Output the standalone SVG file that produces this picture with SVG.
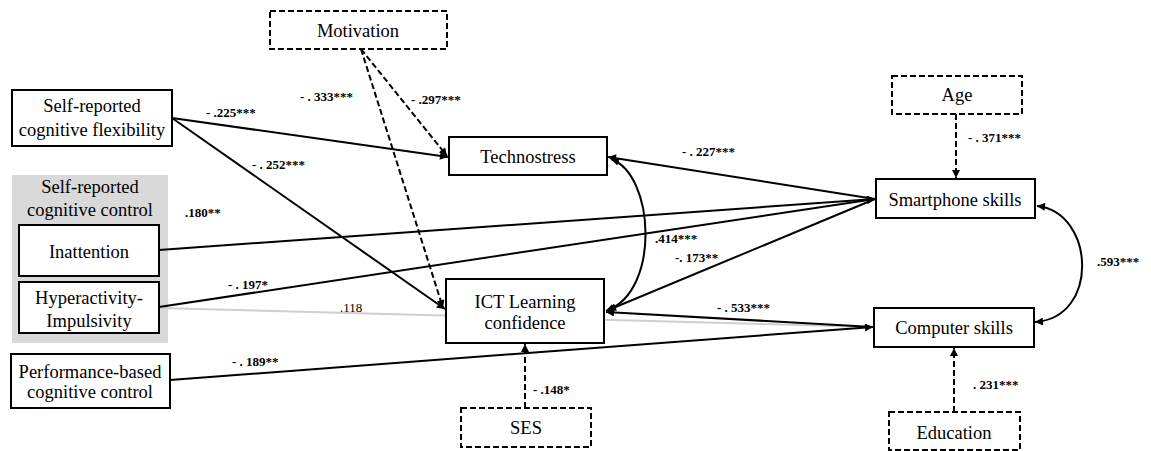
<svg xmlns="http://www.w3.org/2000/svg" width="1151" height="451" viewBox="0 0 1151 451">
  <style>
    .box { fill: #fff; stroke: #000; stroke-width: 2; }
    .dbox { fill: #fff; stroke: #000; stroke-width: 2; stroke-dasharray: 6 3; }
    .lbl { font-size: 18.5px; fill: #000; text-anchor: middle; }
    .coef { font-size: 13px; font-weight: bold; fill: #000; }
    .coef-ns { font-size: 13px; fill: #000; }
    .path { fill: none; stroke: #000; stroke-width: 2; }
    .dash { fill: none; stroke: #000; stroke-width: 2; stroke-dasharray: 6 3; }
    .ns { fill: none; stroke: #cfcfcf; stroke-width: 2; }
  </style>
  <defs>
    <marker id="arrow" viewBox="0 0 10 10" refX="10" refY="5" markerWidth="9" markerHeight="8" markerUnits="userSpaceOnUse" orient="auto-start-reverse">
      <path d="M0,0 L10,5 L0,10 Z" fill="#000"/>
    </marker>
  </defs>

  <rect width="1151" height="451" fill="#fff"/>

  <g font-family="'Liberation Serif', 'Times New Roman', Times, serif">

  <!-- grouping backdrop for the self-reported cognitive control measures -->
  <g id="cognitive-control-group">
    <rect x="12" y="175" width="156" height="168" fill="#d9d9d9"/>
    <text class="lbl" x="90" y="193">Self-reported</text>
    <text class="lbl" x="90" y="216">cognitive control</text>
  </g>

  <g id="connectors">
    <!-- non-significant path -->
    <line class="ns" x1="159" y1="308" x2="872" y2="327"/>

    <line class="path" x1="172" y1="118" x2="448" y2="157" marker-end="url(#arrow)"/>
    <line class="path" x1="172" y1="118" x2="445" y2="309" marker-end="url(#arrow)"/>
    <line class="dash" x1="361" y1="49" x2="447" y2="156" marker-end="url(#arrow)"/>
    <line class="dash" x1="361" y1="49" x2="443" y2="308" marker-end="url(#arrow)"/>

    <line class="path" x1="159" y1="250" x2="875" y2="199" marker-end="url(#arrow)"/>
    <line class="path" x1="159" y1="307" x2="875" y2="199" marker-end="url(#arrow)"/>
    <line class="path" x1="875" y1="199" x2="608" y2="157" marker-end="url(#arrow)"/>
    <line class="path" x1="875" y1="199" x2="606" y2="311" marker-end="url(#arrow)"/>

    <line class="path" x1="873" y1="327" x2="606" y2="312" marker-end="url(#arrow)"/>
    <line class="path" x1="170" y1="380" x2="873" y2="327" marker-end="url(#arrow)"/>

    <path class="path" d="M611,159 C655,175 660,290 608,310" marker-start="url(#arrow)" marker-end="url(#arrow)"/>
    <path class="path" d="M1037,206 C1095,212 1100,318 1035,322" marker-start="url(#arrow)" marker-end="url(#arrow)"/>

    <line class="dash" x1="956" y1="114" x2="956" y2="178" marker-end="url(#arrow)"/>
    <line class="dash" x1="954" y1="412" x2="954" y2="348" marker-end="url(#arrow)"/>
    <line class="dash" x1="525" y1="408" x2="525" y2="344" marker-end="url(#arrow)"/>

    <!-- path coefficients -->
    <text class="coef" x="206" y="117">- .225***</text>
    <text class="coef" x="252" y="169">- . 252***</text>
    <text class="coef" x="300" y="101">- . 333***</text>
    <text class="coef" x="411" y="104">- .297***</text>
    <text class="coef" x="185" y="217">.180**</text>
    <text class="coef" x="228" y="289">- . 197*</text>
    <text class="coef-ns" x="340" y="312">.118</text>
    <text class="coef" x="682" y="156">- . 227***</text>
    <text class="coef" x="655" y="243">.414***</text>
    <text class="coef" x="675" y="262">-. 173**</text>
    <text class="coef" x="717" y="312">- . 533***</text>
    <text class="coef" x="232" y="366">- . 189**</text>
    <text class="coef" x="1097" y="266">.593***</text>
    <text class="coef" x="968" y="142">- . 371***</text>
    <text class="coef" x="973" y="389">. 231***</text>
    <text class="coef" x="533" y="394">- .148*</text>
  </g>

  <g id="motivation">
    <rect class="dbox" x="270" y="11" width="177" height="38"/>
    <text class="lbl" x="358" y="37">Motivation</text>
  </g>

  <g id="cognitive-flexibility">
    <rect class="box" x="12" y="90" width="160" height="56"/>
    <text class="lbl" x="92" y="112">Self-reported</text>
    <text class="lbl" x="92" y="136">cognitive flexibility</text>
  </g>

  <g id="inattention">
    <rect class="box" x="19" y="225" width="140" height="51"/>
    <text class="lbl" x="89" y="258">Inattention</text>
  </g>

  <g id="hyperactivity">
    <rect class="box" x="19" y="282" width="140" height="51"/>
    <text class="lbl" x="89" y="304">Hyperactivity-</text>
    <text class="lbl" x="89" y="327">Impulsivity</text>
  </g>

  <g id="performance-control">
    <rect class="box" x="11" y="354" width="159" height="54"/>
    <text class="lbl" x="90" y="378">Performance-based</text>
    <text class="lbl" x="90" y="398">cognitive control</text>
  </g>

  <g id="technostress">
    <rect class="box" x="449" y="137" width="158" height="38"/>
    <text class="lbl" x="528" y="163">Technostress</text>
  </g>

  <g id="ict-confidence">
    <rect class="box" x="446" y="279" width="158" height="64"/>
    <text class="lbl" x="525" y="308">ICT Learning</text>
    <text class="lbl" x="525" y="329">confidence</text>
  </g>

  <g id="ses">
    <rect class="dbox" x="461" y="408" width="130" height="39"/>
    <text class="lbl" x="526" y="434">SES</text>
  </g>

  <g id="age">
    <rect class="dbox" x="892" y="76" width="130" height="38"/>
    <text class="lbl" x="957" y="101">Age</text>
  </g>

  <g id="smartphone-skills">
    <rect class="box" x="876" y="179" width="159" height="39"/>
    <text class="lbl" x="955" y="206">Smartphone skills</text>
  </g>

  <g id="computer-skills">
    <rect class="box" x="874" y="308" width="160" height="39"/>
    <text class="lbl" x="954" y="334">Computer skills</text>
  </g>

  <g id="education">
    <rect class="dbox" x="889" y="412" width="131" height="38"/>
    <text class="lbl" x="954" y="439">Education</text>
  </g>

  </g>
</svg>
